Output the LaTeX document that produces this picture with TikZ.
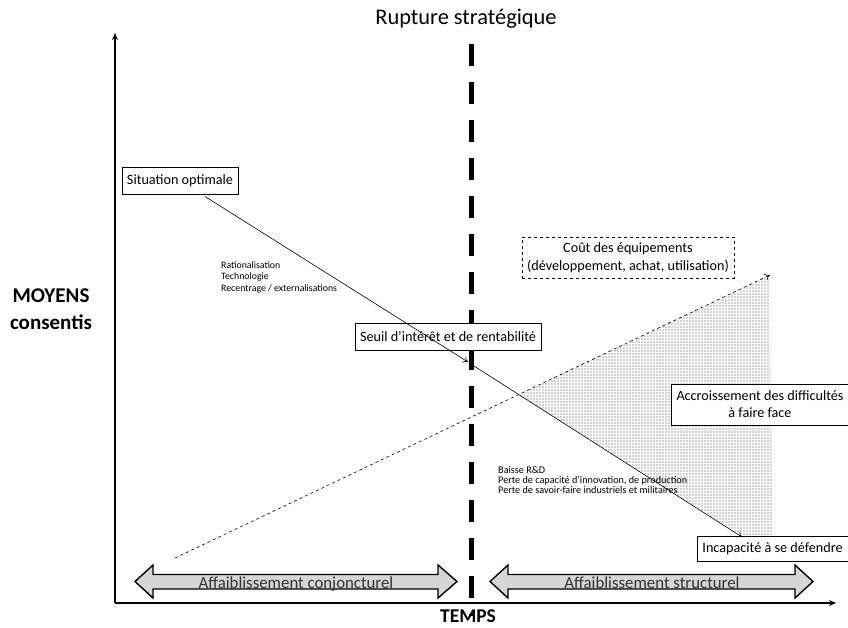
\documentclass[tikz,border=0pt]{standalone}
\usepackage{fontspec}
\setmainfont{Carlito}
\usetikzlibrary{patterns,arrows.meta}
\pgfdeclarepatternformonly{mydots}{\pgfqpoint{-1pt}{-1pt}}{\pgfqpoint{1pt}{1pt}}{\pgfqpoint{3pt}{3pt}}{\pgfpathcircle{\pgfpointorigin}{0.55pt}\pgfusepath{fill}}
\begin{document}
\begin{tikzpicture}[x=1pt,y=-1pt,
  box/.style={draw,fill=white,line width=0.8pt,inner xsep=5pt,inner ysep=0pt,minimum height=27pt,font=\fontsize{14.2}{18}\selectfont},
  twobox/.style={box,align=center,minimum height=41pt},
  note/.style={align=left,inner sep=0pt,anchor=base west},
  link/.style={line width=0.6pt,-{To[length=5pt,width=7pt]}},
  axis/.style={line width=1.8pt,-{Stealth[length=7pt,width=6pt]}},
  band/.style={draw,line width=1.4pt,fill=black!16},
  bandtext/.style={font=\fontsize{16.8}{20}\selectfont,text=black!80,anchor=base,inner sep=0pt},
  big/.style={font=\bfseries\fontsize{21}{27}\selectfont,align=center}]
\useasboundingbox (0,0) rectangle (848,627);
% pattern region
\coordinate (d0) at (175,558);
\coordinate (d1) at (770,275);
\coordinate (s0) at (474,366);
\coordinate (s1) at (742,537);
\coordinate (x) at (intersection of d0--d1 and s0--s1);
\fill[pattern=mydots,pattern color=black!75] (x) -- (d1) -- (772,536) -- (742,536) -- cycle;
% axes
\coordinate (o) at (115,603);
\coordinate (ytop) at (115,33);
\coordinate (xend) at (836,603);
\draw[axis] (o) -- (ytop);
\draw[axis] (o) -- (xend);
% rupture line
\coordinate (r0) at (471,44);
\coordinate (r1) at (471,616);
\draw[line width=5pt,dash pattern=on 22pt off 16pt] (r0) -- (r1);
\node (rupt) at (466,19) {\fontsize{22.4}{26}\selectfont Rupture stratégique};
% labels
\node[big] (moy) at (51,309) {MOYENS\\consentis};
\node[font=\bfseries\fontsize{19.5}{24}\selectfont,anchor=base,inner sep=0pt] (temps) at (468,622) {TEMPS};
% boxes
\node[box] (sit) at (180,180.5) {Situation optimale};
\node[box] (seuil) at (448,336.5) {Seuil d’intérêt et de rentabilité};
\node[twobox,dashed,fill=none,font=\fontsize{14.2}{18}\selectfont,minimum width=212pt] (cout) at (628,257.5) {Coût des équipements\\(développement, achat, utilisation)};
\node[twobox,font=\fontsize{14.2}{17}\selectfont,minimum width=175pt] (acc) at (760,404.5) {Accroissement des difficultés\\à faire face};
\node[box,minimum width=151pt,minimum height=25pt] (inc) at (772.5,549) {Incapacité à se défendre};
% connectors
\coordinate (p0) at (205,196.5);
\coordinate (p1) at (468,362);
\draw[link] (p0) -- (p1);
\draw[link] (s0) -- (s1);
\draw[link,dashed,line width=0.6pt] (d0) -- (d1);
% notes
\node[note,font=\fontsize{9.8}{11.5}\selectfont] (n1) at (221,291) {Rationalisation\\Technologie\\Recentrage / externalisations};
\node[note,font=\fontsize{10.2}{10}\selectfont] (n2) at (498,493) {Baisse R\&D\\Perte de capacité d’innovation, de production\\Perte de savoir-faire industriels et militaires};
% double arrows
\draw[band] (135,581.5) -- (153,565) -- (153,574.5) -- (438,574.5) -- (438,565) -- (457,581.5) -- (438,598) -- (438,589) -- (153,589) -- (153,598) -- cycle;
\node[bandtext] (b1) at (296,588) {Affaiblissement conjoncturel};
\draw[band] (490,581.5) -- (508,565) -- (508,574.5) -- (795,574.5) -- (795,565) -- (813,581.5) -- (795,598) -- (795,589) -- (508,589) -- (508,598) -- cycle;
\node[bandtext] (b2) at (652,588) {Affaiblissement structurel};
\end{tikzpicture}
\end{document}
